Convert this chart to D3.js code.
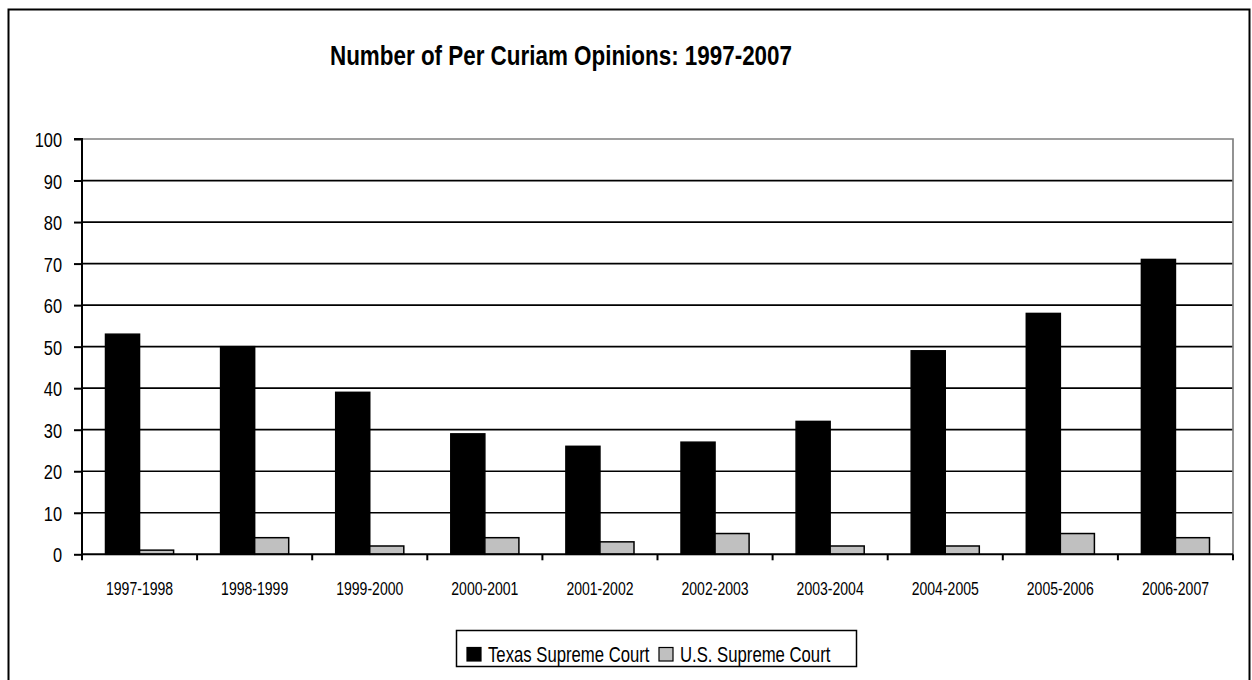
<!DOCTYPE html>
<html>
<head>
<meta charset="utf-8">
<script src="https://cdn.jsdelivr.net/npm/d3@7"></script>
<style>
  html, body { margin: 0; padding: 0; background: #fff; }
  svg { display: block; }
  text { font-family: 'Liberation Sans', Arial, sans-serif; fill: #000; }
</style>
</head>
<body>
<svg id="chart" width="1252" height="680"></svg>
<script>
const categories = ["1997-1998","1998-1999","1999-2000","2000-2001","2001-2002","2002-2003","2003-2004","2004-2005","2005-2006","2006-2007"];
const seriesNames = ["Texas Supreme Court","U.S. Supreme Court"];
const texasValues = [53, 50, 39, 29, 26, 27, 32, 49, 58, 71];
const usValues = [1, 4, 2, 4, 3, 5, 2, 2, 5, 4];
const yTicks = [0,10,20,30,40,50,60,70,80,90,100];
const titleText = "Number of Per Curiam Opinions: 1997-2007";
const seriesColors = ["#000000", "#c0c0c0"];

const svg = d3.select("#chart");
const m = { left: 82, right: 1233, top: 139, bottom: 554.3 };
const SX = 0.78; // horizontal condensing of text

// outer border
svg.append("rect").attr("x", 8.5).attr("y", 9.5).attr("width", 1241).attr("height", 700)
  .attr("fill", "#fff").attr("stroke", "#000").attr("stroke-width", 2);

// title
svg.append("text").attr("x", 561).attr("y", 65).attr("text-anchor", "middle")
  .attr("font-size", 28).attr("font-weight", "bold")
  .attr("textLength", 462).attr("lengthAdjust", "spacingAndGlyphs")
  .text(titleText);

const x0 = d3.scaleBand().domain(categories).range([m.left, m.right]).paddingInner(0).paddingOuter(0);
const x1 = d3.scaleBand().domain(seriesNames).range([0, x0.bandwidth()]).paddingInner(0).paddingOuter(0.69);
const y = d3.scaleLinear().domain([0, 100]).range([m.bottom, m.top]);

// gridlines
svg.append("g").selectAll("line").data(yTicks.filter(t => t > 0 && t < 100)).join("line")
  .attr("x1", m.left).attr("x2", m.right)
  .attr("y1", d => y(d)).attr("y2", d => y(d))
  .attr("stroke", "#000").attr("stroke-width", 1.7);

// plot area border (top & right gray)
svg.append("path")
  .attr("d", `M${m.left},${y(100)}H${m.right}V${m.bottom}`)
  .attr("fill", "none").attr("stroke", "#808080").attr("stroke-width", 1.7);

// bars
const data = categories.map((c, i) => ({ cat: c, vals: [texasValues[i], usValues[i]] }));
const groups = svg.append("g").selectAll("g").data(data).join("g")
  .attr("transform", d => `translate(${x0(d.cat)},0)`);
groups.selectAll("rect").data(d => d.vals.map((v, j) => ({ s: seriesNames[j], v, j }))).join("rect")
  .attr("x", d => x1(d.s))
  .attr("width", x1.bandwidth())
  .attr("y", d => y(d.v))
  .attr("height", d => y(0) - y(d.v))
  .attr("fill", d => seriesColors[d.j])
  .attr("stroke", "#000").attr("stroke-width", 1.5);

// y axis
const yAxis = d3.axisLeft(y).tickValues(yTicks).tickSize(8).tickFormat(d3.format("d"));
const gy = svg.append("g").attr("transform", `translate(${m.left},0)`).call(yAxis);
gy.attr("font-family", null).attr("font-size", null);
gy.select(".domain").attr("stroke", "#000").attr("stroke-width", 2).attr("d", `M-8,${y(100)}H0V${y(0)}`);
gy.selectAll(".tick line").attr("stroke", "#000").attr("stroke-width", 2);
gy.selectAll(".tick text").attr("font-size", 21)
  .attr("x", -20 / SX).attr("dy", "0.36em")
  .attr("transform", `scale(${SX},1)`);

// x axis
const xAxis = d3.axisBottom(x0).tickSize(0);
const gx = svg.append("g").attr("transform", `translate(0,${m.bottom})`).call(xAxis);
gx.attr("font-family", null).attr("font-size", null);
gx.select(".domain").attr("stroke", "#000").attr("stroke-width", 2).attr("d", `M${m.left},0H${m.right}`);
gx.selectAll(".tick text").attr("font-size", 18).attr("y", 40.7).attr("dy", 0)
  .attr("transform", `scale(${SX},1)`);
// boundary ticks
const bounds = categories.map(c => x0(c)).concat([m.right]);
gx.append("g").selectAll("line").data(bounds).join("line")
  .attr("x1", d => d).attr("x2", d => d).attr("y1", 0).attr("y2", 6)
  .attr("stroke", "#000").attr("stroke-width", 2);

// legend
const lg = svg.append("g");
lg.append("rect").attr("x", 456.5).attr("y", 630.5).attr("width", 400).attr("height", 36)
  .attr("fill", "#fff").attr("stroke", "#000").attr("stroke-width", 1.5);
const legendItems = [
  { name: seriesNames[0], color: seriesColors[0], sx: 467, tx: 488 },
  { name: seriesNames[1], color: seriesColors[1], sx: 659, tx: 680 }
];
legendItems.forEach(it => {
  lg.append("rect").attr("x", it.sx).attr("y", 647.5).attr("width", 14).attr("height", 13.5)
    .attr("fill", it.color).attr("stroke", "#000").attr("stroke-width", 1.2);
  lg.append("text").attr("transform", `translate(${it.tx},662) scale(0.76,1)`)
    .attr("font-size", 22).text(it.name);
});
</script>
</body>
</html>
